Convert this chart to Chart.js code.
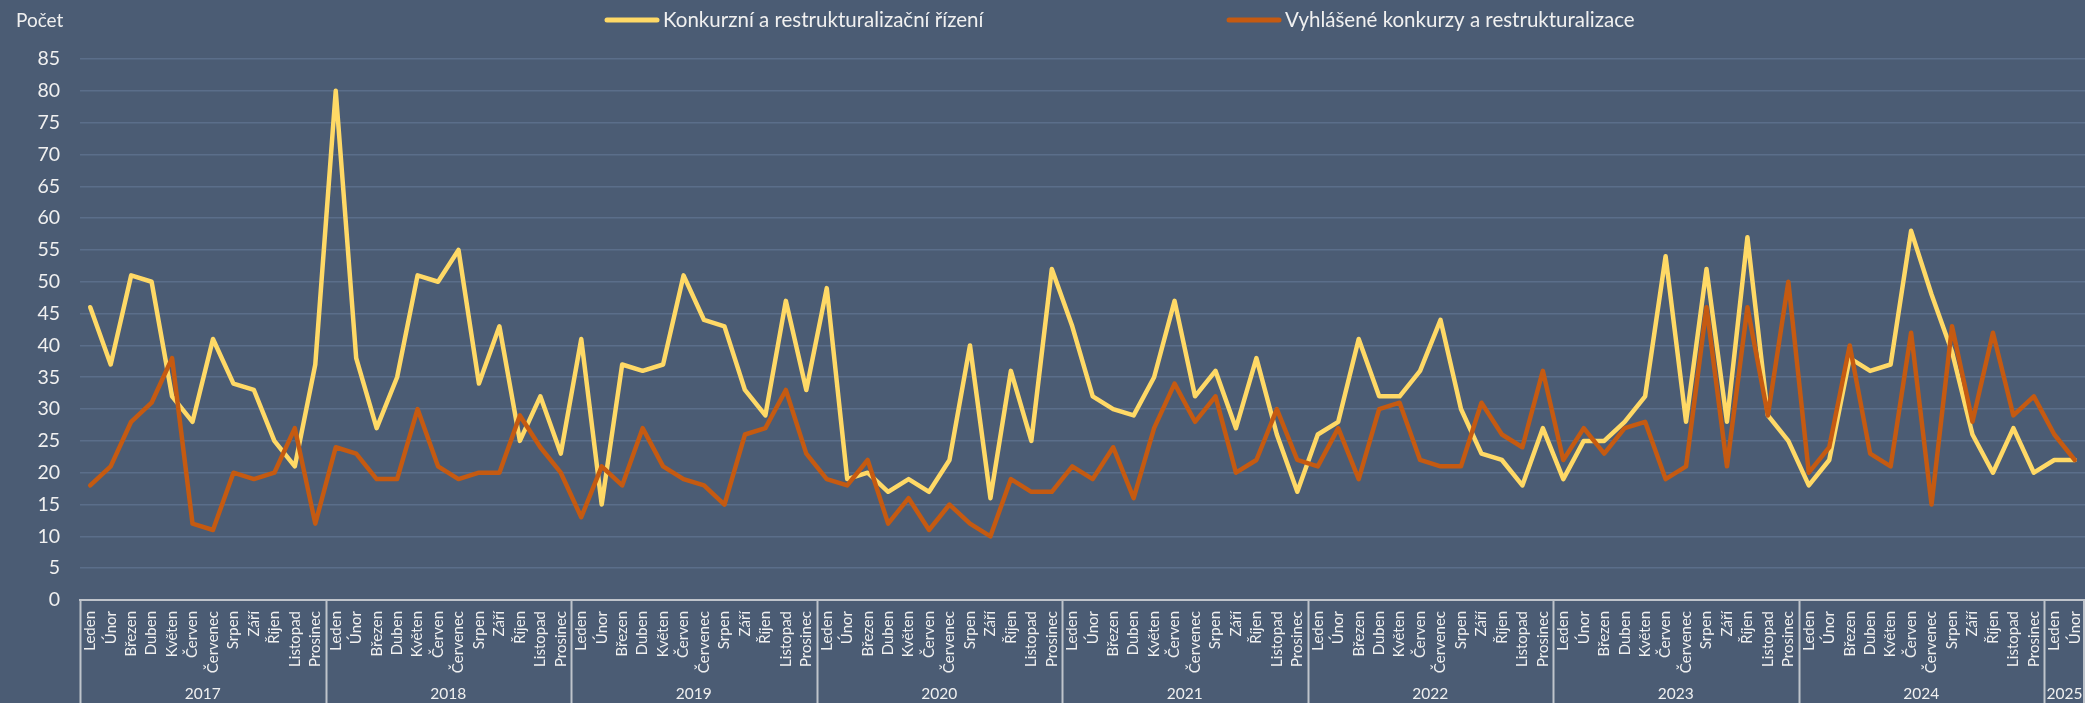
<!DOCTYPE html>
<html>
<head>
<meta charset="utf-8">
<script src="https://cdn.jsdelivr.net/npm/chart.js@4.4.1/dist/chart.umd.min.js"></script>
<style>
  html, body { margin: 0; padding: 0; background: #4B5C74; }
  #wrap { width: 2085px; height: 703px; position: relative; overflow: hidden; }
  canvas { display: block; }
</style>
</head>
<body>
<div id="wrap"><canvas id="c" width="2085" height="703"></canvas></div>
<script>
// ---------- DATA ----------
const years = ['2017', '2018', '2019', '2020', '2021', '2022', '2023', '2024', '2025'];
const monthsPerYear = [12, 12, 12, 12, 12, 12, 12, 12, 2];
const months = ['Leden', 'Únor', 'Březen', 'Duben', 'Květen', 'Červen', 'Červenec', 'Srpen', 'Září', 'Říjen', 'Listopad', 'Prosinec'];
const seriesNames = ['Konkurzní a restrukturalizační řízení', 'Vyhlášené konkurzy a restrukturalizace'];
const axisTitle = 'Počet';
const yMin = 0, yMax = 85, yStep = 5;

const konkurzniRizeni = [
  46, 37, 51, 50, 32, 28, 41, 34, 33, 25, 21, 37,
  80, 38, 27, 35, 51, 50, 55, 34, 43, 25, 32, 23,
  41, 15, 37, 36, 37, 51, 44, 43, 33, 29, 47, 33,
  49, 19, 20, 17, 19, 17, 22, 40, 16, 36, 25, 52,
  43, 32, 30, 29, 35, 47, 32, 36, 27, 38, 26, 17,
  26, 28, 41, 32, 32, 36, 44, 30, 23, 22, 18, 27,
  19, 25, 25, 28, 32, 54, 28, 52, 28, 57, 29, 25,
  18, 22, 38, 36, 37, 58, 48, 39, 26, 20, 27, 20,
  22, 22
];
const vyhlaseneKonkurzy = [
  18, 21, 28, 31, 38, 12, 11, 20, 19, 20, 27, 12,
  24, 23, 19, 19, 30, 21, 19, 20, 20, 29, 24, 20,
  13, 21, 18, 27, 21, 19, 18, 15, 26, 27, 33, 23,
  19, 18, 22, 12, 16, 11, 15, 12, 10, 19, 17, 17,
  21, 19, 24, 16, 27, 34, 28, 32, 20, 22, 30, 22,
  21, 27, 19, 30, 31, 22, 21, 21, 31, 26, 24, 36,
  22, 27, 23, 27, 28, 19, 21, 46, 21, 46, 29, 50,
  20, 24, 40, 23, 21, 42, 15, 43, 28, 42, 29, 32,
  26, 22
];

// ---------- STYLE ----------
const BG = '#4B5C74';
const GRID = '#5B6E8A';
const TEXT = '#F0F0F0';
const AXIS = '#BFC4CB';
const COLORS = ['#FFD966', '#C55A11'];
const FONT = 'Lato, "Open Sans", sans-serif';

// category labels built from the year/month tables
const categories = [];
years.forEach((y, yi) => {
  for (let m = 0; m < monthsPerYear[yi]; m++) categories.push(months[m]);
});

const decor = {
  id: 'decor',
  beforeDraw(chart) {
    const ctx = chart.ctx;
    ctx.save();
    ctx.fillStyle = BG;
    ctx.fillRect(0, 0, chart.width, chart.height);
    ctx.restore();
  },
  afterDraw(chart) {
    const ctx = chart.ctx;
    const xs = chart.scales.x;
    ctx.save();
    // axis title
    ctx.fillStyle = TEXT;
    ctx.textBaseline = 'middle';
    ctx.textAlign = 'left';
    ctx.font = '19px ' + FONT;
    ctx.fillText(axisTitle, 16, 21);

    // legend
    const legendX = [605, 1227];
    chart.data.datasets.forEach((ds, i) => {
      const x = legendX[i];
      ctx.strokeStyle = ds.borderColor;
      ctx.lineWidth = 5;
      ctx.lineCap = 'round';
      ctx.beginPath();
      ctx.moveTo(x + 2, 20);
      ctx.lineTo(x + 52, 20);
      ctx.stroke();
      ctx.fillStyle = TEXT;
      ctx.font = '20.5px ' + FONT;
      ctx.textAlign = 'left';
      ctx.fillText(ds.label, x + 58, 20);
    });

    // year groups on the category axis
    const half = (xs.getPixelForValue(1) - xs.getPixelForValue(0)) / 2;
    ctx.strokeStyle = AXIS;
    ctx.lineWidth = 2;
    ctx.lineCap = 'butt';
    let start = 0;
    ctx.font = '15.5px ' + FONT;
    ctx.textAlign = 'center';
    ctx.textBaseline = 'middle';
    years.forEach((y, yi) => {
      const n = monthsPerYear[yi];
      const x0 = xs.getPixelForValue(start) - half;
      const x1 = xs.getPixelForValue(start + n - 1) + half;
      ctx.beginPath();
      ctx.moveTo(Math.round(x0) + 0.5, xs.top);
      ctx.lineTo(Math.round(x0) + 0.5, chart.height);
      ctx.stroke();
      ctx.fillStyle = TEXT;
      ctx.fillText(y, (x0 + x1) / 2, 694);
      start += n;
    });
    ctx.beginPath();
    ctx.moveTo(xs.right - 1, xs.top);
    ctx.lineTo(xs.right - 1, chart.height);
    ctx.stroke();
    ctx.restore();
  }
};

new Chart(document.getElementById('c'), {
  type: 'line',
  data: {
    labels: categories,
    datasets: [
      {
        label: seriesNames[0],
        data: konkurzniRizeni,
        borderColor: COLORS[0],
        backgroundColor: COLORS[0],
        borderWidth: 4.5,
        pointRadius: 0,
        tension: 0,
        borderJoinStyle: 'round',
        borderCapStyle: 'round',
        order: 2
      },
      {
        label: seriesNames[1],
        data: vyhlaseneKonkurzy,
        borderColor: COLORS[1],
        backgroundColor: COLORS[1],
        borderWidth: 4.5,
        pointRadius: 0,
        tension: 0,
        borderJoinStyle: 'round',
        borderCapStyle: 'round',
        order: 1
      }
    ]
  },
  options: {
    responsive: false,
    devicePixelRatio: 1,
    animation: false,
    layout: { padding: { top: 59, left: 0, right: 0, bottom: 0 } },
    plugins: {
      legend: { display: false },
      tooltip: { enabled: false },
      title: { display: false }
    },
    scales: {
      x: {
        type: 'category',
        offset: true,
        grid: { display: false, drawTicks: false },
        border: { display: true, color: AXIS, width: 2 },
        ticks: {
          autoSkip: false,
          minRotation: 90,
          maxRotation: 90,
          padding: 11,
          color: TEXT,
          font: { family: FONT, size: 15 }
        },
        afterFit(scale) {
          scale.height = 103;
          scale.paddingLeft = 0;
          scale.paddingRight = 0;
        }
      },
      y: {
        min: yMin,
        max: yMax,
        grid: { color: GRID, lineWidth: 1.5, drawTicks: false },
        border: { display: false },
        ticks: {
          stepSize: yStep,
          padding: 20,
          color: TEXT,
          font: { family: FONT, size: 19.5 }
        },
        afterFit(scale) {
          scale.width = 80;
        }
      }
    }
  },
  plugins: [decor]
});
</script>
</body>
</html>
